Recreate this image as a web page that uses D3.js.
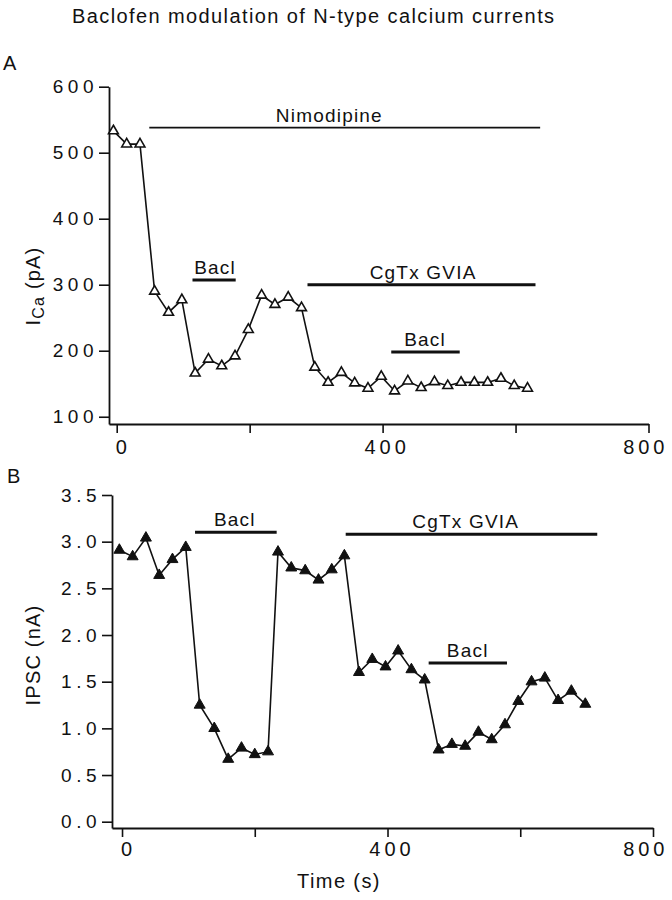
<!DOCTYPE html>
<html>
<head>
<meta charset="utf-8">
<script src="https://cdn.jsdelivr.net/npm/d3@7"></script>
<style>
  html, body { margin: 0; padding: 0; background: #fff; }
  svg { display: block; }
  text { font-family: "Liberation Sans", Arial, Helvetica, sans-serif; fill: #111; }
</style>
</head>
<body>
<svg id="chart" width="672" height="900"></svg>
<script>
// ---------- data ----------
const title = "Baclofen modulation of N-type calcium currents";

// Panel A: Ca current
const timeA = [-5, 15, 35, 57, 78, 98, 118, 138, 158, 178, 198, 218, 238, 258, 278, 298,
               318, 338, 358, 378, 398, 418, 438, 458, 478, 498, 518, 538, 558, 578, 598, 618];
const currentA = [533, 513, 513, 290, 258, 277, 166, 187, 177, 192, 232, 284, 270, 281, 265, 175,
                  152, 167, 151, 143, 161, 139, 154, 144, 153, 147, 152, 152, 152, 158, 147, 143];
const yTicksA = [100, 200, 300, 400, 500, 600];

const barLabelsA = ["Nimodipine", "Bacl", "CgTx GVIA", "Bacl"];
const barStartA = [49, 114, 287, 413];
const barEndA = [637, 179, 630, 516];
const barLevelA = [538, 307, 300, 198];
const labelTimeA = [319, 147, 460, 463];

// Panel B: IPSC
const timeB = [-4, 16, 36, 56, 76, 96, 117, 139, 160, 180, 200, 220, 235, 255, 276, 296, 316, 335,
               357, 377, 397, 416, 436, 456, 477, 497, 517, 537, 557, 577, 597, 617, 637, 657, 677, 698];
const ipscB = [2.91, 2.84, 3.04, 2.64, 2.81, 2.94, 1.25, 1.00, 0.67, 0.79, 0.72, 0.75, 2.89, 2.72, 2.69, 2.59, 2.70, 2.85,
               1.60, 1.74, 1.66, 1.83, 1.63, 1.52, 0.77, 0.83, 0.81, 0.96, 0.88, 1.04, 1.29, 1.50, 1.54, 1.30, 1.40, 1.26];
const yTicksB = [0, 0.5, 1.0, 1.5, 2.0, 2.5, 3.0, 3.5];

const barLabelsB = ["Bacl", "CgTx GVIA", "Bacl"];
const barStartB = [110, 337, 462];
const barEndB = [233, 716, 580];
const barLevelB = [3.10, 3.08, 1.70];
const labelTimeB = [169, 517, 520];

const xTicks = [0, 200, 400, 600, 800];
const xTickLabels = [0, 400, 800];

// ---------- drawing ----------
const svg = d3.select("#chart");
const W = 672;

svg.append("text")
  .attr("x", 72).attr("y", 22.5)
  .style("font-size", "20px").style("letter-spacing", "1.4px")
  .text(title);

function drawPanel(opt) {
  const g = svg.append("g");
  const x = d3.scaleLinear().domain(opt.xDomain).range(opt.xRange);
  const y = d3.scaleLinear().domain(opt.yDomain).range(opt.yRange);

  // panel letter
  svg.append("text").attr("x", opt.letterPos[0]).attr("y", opt.letterPos[1])
    .style("font-size", "20px").text(opt.letter);

  // axes
  const xAxis = d3.axisBottom(x).tickValues(xTicks).tickSize(9).tickSizeOuter(0)
    .tickPadding(opt.xPad)
    .tickFormat(d => xTickLabels.includes(d) ? d3.format("d")(d) : "");
  const gx = g.append("g").attr("transform", `translate(0,${opt.yRange[0]})`).call(xAxis);

  const yAxis = d3.axisLeft(y).tickValues(opt.yTicks).tickSize(10).tickSizeOuter(0)
    .tickPadding(opt.yPad).tickFormat(opt.yFormat);
  const gy = g.append("g").attr("transform", `translate(${opt.xRange[0]},0)`).call(yAxis);

  [gx, gy].forEach(a => {
    a.select(".domain").attr("stroke", "#111").attr("stroke-width", 1.8);
    a.selectAll(".tick line").attr("stroke", "#111").attr("stroke-width", 1.6);
    a.selectAll(".tick text")
      .style("font-family", '"Liberation Sans", Arial, sans-serif')
      .attr("fill", "#111");
  });
  gy.selectAll(".tick text").style("font-size", "19px").style("letter-spacing", "4.5px");
  // x labels: letter-spaced; the last label is nudged left so it stays inside the page
  const lastDx = Math.min(-2.5, (W - 4) - 22.7 - x(800));
  gx.selectAll(".tick text")
    .style("font-size", "20px").style("letter-spacing", "4px")
    .attr("dx", d => (d === 800 ? lastDx : d === 0 ? 6 : 4) + "px");

  // axis title
  const yt = svg.append("text")
    .attr("transform", `translate(40,${opt.yTitleY}) rotate(-90)`)
    .attr("text-anchor", "middle")
    .style("font-size", "20px").style("letter-spacing", "1.2px");
  opt.yTitle(yt);

  // treatment bars + labels
  opt.barLabels.forEach((lab, i) => {
    g.append("line")
      .attr("x1", x(opt.barStart[i])).attr("x2", x(opt.barEnd[i]))
      .attr("y1", y(opt.barLevel[i])).attr("y2", y(opt.barLevel[i]))
      .attr("stroke", "#111")
      .attr("stroke-width", lab === "Nimodipine" ? 1.8 : 3);
    g.append("text")
      .attr("x", x(opt.labelTime[i]) + 0.6).attr("y", y(opt.barLevel[i]) - 6)
      .attr("text-anchor", "middle")
      .style("font-size", "19px").style("letter-spacing", "1.2px")
      .text(lab);
  });

  // data line
  const pts = opt.t.map((t, i) => [t, opt.v[i]]);
  g.append("path").datum(pts)
    .attr("fill", "none").attr("stroke", "#111").attr("stroke-width", 1.6)
    .attr("d", d3.line().x(d => x(d[0])).y(d => y(d[1])));

  // markers
  const sym = d3.symbol().type(d3.symbolTriangle).size(opt.markerSize);
  g.selectAll("path.mk").data(pts).join("path")
    .attr("class", "mk")
    .attr("transform", d => `translate(${x(d[0])},${y(d[1])})`)
    .attr("d", sym)
    .attr("fill", opt.filled ? "#111" : "#fff")
    .attr("stroke", "#111").attr("stroke-width", opt.filled ? 1 : 1.6);

  return { x, y };
}

// Panel A
drawPanel({
  letter: "A", letterPos: [3, 70],
  xDomain: [-11.6, 800], xRange: [109, 648.5],
  yDomain: [89, 600], yRange: [424, 86.7],
  yTicks: yTicksA, yFormat: d3.format("d"),
  xPad: 7, yPad: 1,
  yTitleY: 286,
  yTitle: t => {
    t.append("tspan").text("I");
    t.append("tspan").attr("baseline-shift", "-4px").style("font-size", "16px").text("Ca");
    t.append("tspan").text(" (pA)");
  },
  barLabels: barLabelsA, barStart: barStartA, barEnd: barEndA, barLevel: barLevelA, labelTime: labelTimeA,
  t: timeA, v: currentA, markerSize: 42, filled: false
});

// Panel B
drawPanel({
  letter: "B", letterPos: [7, 483],
  xDomain: [-15.1, 800], xRange: [112, 653],
  yDomain: [-0.0675, 3.5], yRange: [828, 495],
  yTicks: yTicksB, yFormat: d3.format(".1f"),
  xPad: 5, yPad: 1,
  yTitleY: 655,
  yTitle: t => t.text("IPSC (nA)"),
  barLabels: barLabelsB, barStart: barStartB, barEnd: barEndB, barLevel: barLevelB, labelTime: labelTimeB,
  t: timeB, v: ipscB, markerSize: 52, filled: true
});

// x-axis title
svg.append("text")
  .attr("x", 339).attr("y", 888)
  .attr("text-anchor", "middle")
  .style("font-size", "20px").style("letter-spacing", "1.4px")
  .text("Time (s)");
</script>
</body>
</html>
